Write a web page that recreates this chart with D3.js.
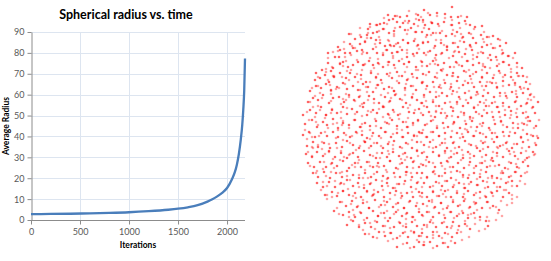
<!DOCTYPE html>
<html>
<head>
<meta charset="utf-8">
<script src="https://cdn.jsdelivr.net/npm/d3@7"></script>
<style>
  html, body { margin: 0; padding: 0; background: #fff; }
  svg { display: block; font-family: Lato, "Open Sans", sans-serif; }
</style>
</head>
<body>
<svg id="chart" width="551" height="261"></svg>
<script>
// average radius over iterations
const iterations = [0, 200, 400, 600, 800, 1000, 1200, 1400, 1500, 1600, 1700, 1800, 1850, 1900, 1950, 2000, 2050, 2080, 2100, 2120, 2140, 2155, 2165, 2175, 2183];
const avgRadius  = [2.8, 2.9, 3.0, 3.2, 3.4, 3.7, 4.2, 4.9, 5.4, 6.1, 7.1, 8.8, 9.9, 11.3, 13.0, 15.3, 19.5, 23.0, 26.5, 31.5, 38.5, 45.5, 52.5, 62.0, 77.3];
const xTicks = [0, 500, 1000, 1500, 2000];
const yTicks = [0, 10, 20, 30, 40, 50, 60, 70, 80, 90];

// particle positions (projected), in sphere units; near layer (stronger) and far layer (paler)
const particlesNear = [
  [-34,115],[-27,114],[-22,113],[-15,114],[-4,115],[-52,106],[-45,105],[-42,106],[-38,107],[-33,110],[-29,111],[-25,108],[-19,107],[-13,109],[-8,106],[-3,110],
  [-54,101],[-49,97],[-45,98],[-39,101],[-33,97],[-28,99],[-22,103],[-17,100],[-11,102],[-6,98],[-73,96],[-61,93],[-55,95],
  [-72,86],[-67,91],[-62,86],[-57,88],[-51,92],[-46,90],[-42,87],[-37,84],[-32,85],[-28,84],[-24,87],[-19,90],[-14,87],[-8,89],[-4,85],[-84,83],[-82,80],[-69,82],
  [-94,77],[-87,73],[-83,73],[-77,77],[-72,77],[-65,79],[-60,80],[-55,77],[-49,81],[-45,77],[-39,75],[-35,80],[-30,77],[-25,78],[-20,80],[-15,73],[-9,76],[-5,77],
  [-94,67],[-89,62],[-82,66],[-79,68],[-74,63],[-69,65],[-64,68],[-59,65],[-53,69],[-49,65],[-44,67],[-39,63],[-33,68],[-28,65],[-23,69],[-18,66],[-13,68],[-6,63],[-106,57],[-100,60],[-91,59],
  [-107,50],[-102,52],[-97,55],[-93,48],[-88,53],[-82,57],[-76,52],[-72,57],[-67,53],[-61,55],[-56,48],[-51,57],[-46,53],[-41,50],[-35,56],[-30,52],[-25,58],[-20,54],[-15,50],[-10,56],[-5,52],
  [-112,39],[-106,44],[-101,42],[-96,46],[-91,40],[-85,43],[-79,47],[-75,41],[-69,44],[-64,40],[-59,46],[-54,43],[-49,38],[-44,45],[-38,41],[-33,43],[-28,39],[-23,47],[-17,42],[-11,44],[-6,40],
  [-114,28],[-109,32],[-104,30],[-99,35],[-93,27],[-89,32],[-83,33],[-78,28],[-73,35],[-68,30],[-63,33],[-58,27],[-53,34],[-48,31],[-43,27],[-37,33],[-32,29],[-27,35],[-22,31],[-16,27],[-10,33],[-5,30],
  [-119,15],[-112,20],[-106,17],[-101,23],[-96,15],[-90,20],[-85,17],[-79,23],[-75,16],[-70,21],[-65,18],[-59,23],[-55,15],[-49,20],[-45,17],[-39,23],[-34,16],[-29,20],[-24,15],[-19,23],[-13,18],[-8,17],[-3,21],
  [-117,6],[-110,10],[-105,3],[-99,8],[-95,5],[-89,11],[-84,2],[-79,7],[-73,5],[-67,10],[-62,3],[-57,7],[-52,4],[-46,9],[-41,2],[-35,7],[-30,10],[-25,4],[-19,8],[-15,3],[-9,7],[-4,10],
  [30,123],[2,120],[8,115],[15,117],[23,116],[29,113],[36,113],[45,113],[1,110],
  [3,105],[10,107],[16,106],[22,108],[30,105],[37,107],[43,109],[48,105],[53,103],[60,104],[7,101],
  [0,98],[5,95],[11,97],[18,97],[24,94],[30,96],[35,98],[41,93],[47,97],[51,92],[59,95],[65,93],[71,94],[76,91],
  [1,87],[6,88],[13,84],[19,87],[25,83],[31,87],[36,83],[42,88],[48,85],[54,87],[60,83],[65,85],[71,82],[78,84],[84,87],
  [2,77],[8,79],[14,75],[20,77],[25,80],[31,74],[37,78],[43,76],[50,80],[55,73],[61,77],[68,75],[74,73],[81,77],[86,74],[93,77],
  [0,68],[5,64],[11,69],[16,65],[22,67],[28,63],[34,68],[40,64],[45,69],[51,65],[57,67],[63,63],[69,70],[75,64],[81,68],[87,65],[95,67],[100,62],
  [1,56],[7,58],[13,53],[19,60],[25,55],[31,57],[36,53],[42,59],[48,54],[54,58],[60,53],[65,57],[71,52],[77,59],[83,55],[89,53],[95,57],[101,54],
  [0,47],[5,44],[11,48],[17,43],[23,47],[29,43],[35,49],[41,45],[46,47],[52,43],[58,48],[64,44],[70,47],[75,43],[81,49],[87,45],[93,47],[98,43],[104,48],[106,41],
  [2,35],[8,38],[14,33],[20,37],[25,34],[31,39],[37,33],[43,37],[49,32],[55,38],[61,34],[66,37],[72,33],[78,37],[84,34],[90,38],[95,33],[101,37],[108,35],
  [0,27],[5,23],[11,28],[17,24],[23,27],[29,23],[35,28],[41,24],[46,27],[52,22],[58,28],[64,24],[70,27],[75,23],[81,27],[87,23],[93,28],[99,24],[105,27],[111,23],[116,28],
  [1,15],[7,18],[13,13],[19,17],[25,14],[31,19],[36,13],[42,17],[48,13],[54,18],[60,14],[65,17],[71,13],[77,18],[83,15],[89,19],[95,13],[101,17],[106,13],[113,17],
  [3,5],[9,9],[15,2],[21,7],[26,3],[32,8],[38,2],[44,6],[50,9],[55,3],[61,7],[67,2],[73,6],[79,9],[85,3],[91,7],[96,2],[102,6],[108,9],[114,4],
  [-119,-5],[-113,-2],[-107,-7],[-101,-3],[-95,-6],[-89,-2],[-84,-7],[-78,-3],[-72,-7],[-66,-2],[-60,-5],[-55,-8],[-49,-3],[-43,-6],[-37,-2],[-31,-7],[-25,-3],[-19,-7],[-14,-3],[-8,-6],[-3,-2],
  [-115,-16],[-109,-12],[-104,-17],[-98,-13],[-92,-18],[-86,-13],[-80,-17],[-75,-11],[-69,-15],[-63,-18],[-57,-12],[-51,-16],[-45,-13],[-39,-18],[-34,-14],[-28,-11],[-22,-17],[-16,-13],[-10,-18],[-5,-12],
  [-116,-24],[-110,-27],[-105,-22],[-99,-26],[-93,-21],[-87,-27],[-81,-23],[-75,-28],[-69,-23],[-64,-27],[-58,-21],[-52,-25],[-46,-28],[-40,-23],[-35,-27],[-29,-22],[-23,-26],[-17,-23],[-11,-28],[-5,-21],
  [-114,-33],[-108,-37],[-102,-32],[-96,-37],[-90,-33],[-85,-36],[-79,-31],[-73,-38],[-67,-33],[-61,-37],[-55,-32],[-49,-37],[-44,-33],[-38,-36],[-32,-31],[-26,-38],[-20,-33],[-15,-37],[-9,-32],[-3,-37],
  [-109,-43],[-104,-47],[-98,-42],[-92,-48],[-86,-43],[-80,-47],[-75,-41],[-69,-45],[-63,-48],[-57,-43],[-51,-47],[-45,-42],[-39,-46],[-34,-48],[-28,-43],[-22,-47],[-16,-42],[-10,-47],[-5,-43],
  [-105,-53],[-99,-57],[-93,-52],[-87,-57],[-81,-53],[-75,-50],[-69,-56],[-64,-53],[-58,-58],[-52,-54],[-46,-50],[-40,-56],[-35,-53],[-29,-58],[-23,-54],[-17,-51],[-11,-57],[-5,-53],
  [-97,-65],[-90,-62],[-85,-66],[-79,-61],[-73,-65],[-67,-63],[-61,-67],[-55,-61],[-49,-65],[-44,-62],[-38,-67],[-32,-63],[-26,-61],[-20,-66],[-15,-63],[-9,-67],[-3,-62],
  [-88,-81],[-82,-72],[-76,-76],[-70,-71],[-65,-77],[-59,-73],[-53,-78],[-47,-70],[-41,-75],[-35,-72],[-29,-77],[-24,-73],[-18,-78],[-12,-71],[-6,-76],
  [-79,-85],[-73,-82],[-67,-87],[-61,-83],[-55,-88],[-49,-81],[-44,-86],[-38,-83],[-32,-88],[-26,-82],[-20,-86],[-15,-83],[-9,-87],[-3,-82],
  [-75,-95],[-69,-91],[-63,-97],[-57,-93],[-51,-97],[-45,-92],[-39,-96],[-34,-91],[-28,-97],[-22,-93],[-16,-97],[-10,-92],[-5,-96],
  [-57,-104],[-49,-107],[-43,-102],[-37,-106],[-31,-103],[-25,-108],[-19,-103],[-14,-107],[-8,-102],[-3,-106],
  [-25,-117],[-15,-113],[-8,-117],[-3,-112],
  [0,-3],[5,-7],[11,-2],[17,-6],[23,-3],[29,-7],[35,-3],[41,-7],[46,-2],[52,-6],[58,-3],[64,-7],[70,-3],[75,-7],[81,-2],[87,-6],[93,-3],[99,-7],[105,-4],[111,-6],[116,-8],
  [2,-15],[8,-12],[14,-17],[20,-13],[25,-18],[31,-13],[37,-17],[43,-11],[49,-15],[55,-18],[61,-13],[66,-17],[72,-12],[78,-16],[84,-13],[90,-18],[95,-14],[101,-12],[107,-17],[114,-15],
  [0,-23],[5,-27],[11,-22],[17,-26],[23,-21],[29,-27],[35,-23],[41,-28],[46,-22],[52,-26],[58,-21],[64,-25],[70,-28],[75,-23],[81,-27],[87,-21],[93,-26],[99,-23],[105,-28],[111,-22],
  [1,-35],[7,-32],[13,-37],[19,-33],[25,-31],[31,-37],[36,-33],[42,-38],[48,-32],[54,-36],[60,-33],[65,-37],[71,-31],[77,-35],[83,-38],[89,-33],[95,-37],[101,-32],[106,-36],
  [0,-43],[5,-47],[11,-42],[17,-46],[23,-43],[29,-48],[35,-41],[41,-45],[46,-48],[52,-43],[58,-47],[64,-42],[70,-46],[75,-48],[81,-43],[87,-47],[93,-42],[99,-46],
  [2,-53],[8,-57],[14,-52],[20,-56],[25,-51],[31,-57],[37,-53],[43,-58],[49,-52],[55,-55],[61,-51],[66,-57],[72,-53],[78,-57],[84,-53],[90,-51],[95,-56],
  [0,-63],[5,-67],[11,-62],[17,-66],[23,-61],[29,-67],[35,-63],[41,-67],[46,-61],[52,-65],[58,-62],[64,-67],[70,-63],[75,-61],[81,-67],[87,-63],
  [1,-74],[7,-71],[13,-77],[19,-73],[25,-78],[31,-72],[36,-76],[42,-71],[48,-77],[54,-73],[60,-78],[65,-72],[71,-76],[77,-80],
  [0,-85],[5,-82],[11,-87],[17,-83],[23,-88],[29,-82],[35,-86],[41,-83],[46,-88],[52,-83],[58,-87],[64,-91],[66,-96],
  [2,-95],[8,-92],[14,-97],[20,-93],[25,-97],[31,-92],[37,-96],[43,-94],[48,-99],
  [0,-103],[5,-107],[11,-102],[17,-106],[23,-103],[30,-107],[35,-103],
  [2,-115],[8,-112],[15,-116],[21,-113],[26,-117],[33,-113]
];

const particlesFar = [
  [-13,119],[-6,116],[6,117],[15,114],
  [-38,112],[-25,114],[-17,109],[-6,111],[-1,113],[9,108],[23,112],[30,110],[39,114],
  [-52,103],[-46,105],[-35,106],[-27,102],[-14,107],[-4,104],[1,108],[10,107],[17,104],[29,105],[38,102],[44,106],
  [-62,102],[-54,97],[-43,99],[-38,101],[-28,96],[-14,100],[-7,98],[2,102],[14,97],[20,99],[31,100],[39,96],[52,101],[62,98],
  [-71,96],[-62,95],[-55,92],[-43,93],[-34,90],[-28,94],[-15,96],[-7,91],[4,93],[9,95],[19,90],[33,94],[40,92],[49,96],[61,91],[67,93],
  [-78,88],[-70,84],[-57,89],[-47,86],[-42,90],[-33,89],[-26,86],[-14,87],[-5,84],[1,88],[14,90],[22,85],[33,87],[38,89],[48,84],[62,88],[69,86],[78,90],
  [-84,79],[-78,81],[-67,82],[-59,78],[-46,83],[-36,80],[-31,84],[-22,83],[-15,80],[-3,81],[6,78],[12,82],[25,84],[33,79],[44,81],[49,83],[59,78],[73,82],[80,80],
  [-89,78],[-77,73],[-71,75],[-60,76],[-52,72],[-39,77],[-29,74],[-24,78],[-15,77],[-8,74],[4,75],[13,72],[19,76],[32,78],[40,73],[51,75],[56,77],[66,72],[80,76],[87,74],
  [-94,72],[-82,67],[-76,69],[-65,70],[-57,66],[-44,71],[-34,68],[-29,72],[-20,71],[-13,68],[-1,69],[8,66],[14,70],[27,72],[35,67],[46,69],[51,71],[61,66],[75,70],[82,68],[91,72],
  [-96,61],[-90,63],[-79,64],[-71,60],[-58,65],[-48,62],[-43,66],[-34,65],[-27,62],[-15,63],[-6,60],[0,64],[13,66],[21,61],[32,63],[37,65],[47,60],[61,64],[68,62],[77,66],[89,61],[95,63],
  [-96,58],[-88,54],[-75,59],[-65,56],[-60,60],[-51,59],[-44,56],[-32,57],[-23,54],[-17,58],[-4,60],[4,55],[15,57],[20,59],[30,54],[44,58],[51,56],[60,60],[72,55],[78,57],[89,58],[97,54],
  [-104,53],[-94,50],[-89,54],[-80,53],[-73,50],[-61,51],[-52,48],[-46,52],[-33,54],[-25,49],[-14,51],[-9,53],[1,48],[15,52],[22,50],[31,54],[43,49],[49,51],[60,52],[68,48],[81,53],[91,50],[96,54],[105,53],
  [-104,44],[-92,45],[-83,42],[-77,46],[-64,48],[-56,43],[-45,45],[-40,47],[-30,42],[-16,46],[-9,44],[0,48],[12,43],[18,45],[29,46],[37,42],[50,47],[60,44],[65,48],[74,47],[81,44],[93,45],[102,42],[108,46],
  [-110,42],[-102,37],[-91,39],[-86,41],[-76,36],[-62,40],[-55,38],[-46,42],[-34,37],[-28,39],[-17,40],[-9,36],[4,41],[14,38],[19,42],[28,41],[35,38],[47,39],[56,36],[62,40],[75,42],[83,37],[94,39],[99,41],[109,36],
  [-107,34],[-100,32],[-91,36],[-79,31],[-73,33],[-62,34],[-54,30],[-41,35],[-31,32],[-26,36],[-17,35],[-10,32],[2,33],[11,30],[17,34],[30,36],[38,31],[49,33],[54,35],[64,30],[78,34],[85,32],[94,36],[106,31],[112,33],
  [-112,28],[-104,24],[-91,29],[-81,26],[-76,30],[-67,29],[-60,26],[-48,27],[-39,24],[-33,28],[-20,30],[-12,25],[-1,27],[4,29],[14,24],[28,28],[35,26],[44,30],[56,25],[62,27],[73,28],[81,24],[94,29],[104,26],[109,30],
  [-109,23],[-102,20],[-90,21],[-81,18],[-75,22],[-62,24],[-54,19],[-43,21],[-38,23],[-28,18],[-14,22],[-7,20],[2,24],[14,19],[20,21],[31,22],[39,18],[52,23],[62,20],[67,24],[76,23],[83,20],[95,21],[104,18],[110,22],
  [-115,18],[-107,13],[-96,15],[-91,17],[-81,12],[-67,16],[-60,14],[-51,18],[-39,13],[-33,15],[-22,16],[-14,12],[-1,17],[9,14],[14,18],[23,17],[30,14],[42,15],[51,12],[57,16],[70,18],[78,13],[89,15],[94,17],[104,12],
  [-113,10],[-106,8],[-97,12],[-85,7],[-79,9],[-68,10],[-60,6],[-47,11],[-37,8],[-32,12],[-23,11],[-16,8],[-4,9],[5,6],[11,10],[24,12],[32,7],[43,9],[48,11],[58,6],[72,10],[79,8],[88,12],[100,7],[106,9],[117,10],
  [-117,0],[-104,5],[-94,2],[-89,6],[-80,5],[-73,2],[-61,3],[-52,0],[-46,4],[-33,6],[-25,1],[-14,3],[-9,5],[1,0],[15,4],[22,2],[31,6],[43,1],[49,3],[60,4],[68,0],[81,5],[91,2],[96,6],[105,5],[112,2],
  [-112,-3],[-103,-6],[-97,-2],[-84,0],[-76,-5],[-65,-3],[-60,-1],[-50,-6],[-36,-2],[-29,-4],[-20,0],[-8,-5],[-2,-3],[9,-2],[17,-6],[30,-1],[40,-4],[45,0],[54,-1],[61,-4],[73,-3],[82,-6],[88,-2],[101,0],[109,-5],
  [-115,-9],[-110,-7],[-100,-12],[-86,-8],[-79,-10],[-70,-6],[-58,-11],[-52,-9],[-41,-8],[-33,-12],[-20,-7],[-10,-10],[-5,-6],[4,-7],[11,-10],[23,-9],[32,-12],[38,-8],[51,-6],[59,-11],[70,-9],[75,-7],[85,-12],[99,-8],[106,-10],[115,-6],
  [-110,-17],[-104,-15],[-93,-14],[-85,-18],[-72,-13],[-62,-16],[-57,-12],[-48,-13],[-41,-16],[-29,-15],[-20,-18],[-14,-14],[-1,-12],[7,-17],[18,-15],[23,-13],[33,-18],[47,-14],[54,-16],[63,-12],[75,-17],[81,-15],[92,-14],[100,-18],[113,-13],
  [-114,-22],[-109,-18],[-100,-19],[-93,-22],[-81,-21],[-72,-24],[-66,-20],[-53,-18],[-45,-23],[-34,-21],[-29,-19],[-19,-24],[-5,-20],[2,-22],[11,-18],[23,-23],[29,-21],[40,-20],[48,-24],[61,-19],[71,-22],[76,-18],[85,-19],[92,-22],[104,-21],[113,-24],
  [-110,-26],[-97,-24],[-89,-29],[-78,-27],[-73,-25],[-63,-30],[-49,-26],[-42,-28],[-33,-24],[-21,-29],[-15,-27],[-4,-26],[4,-30],[17,-25],[27,-28],[32,-24],[41,-25],[48,-28],[60,-27],[69,-30],[75,-26],[88,-24],[96,-29],[107,-27],[112,-25],
  [-112,-36],[-98,-32],[-91,-34],[-82,-30],[-70,-35],[-64,-33],[-53,-32],[-45,-36],[-32,-31],[-22,-34],[-17,-30],[-8,-31],[-1,-34],[11,-33],[20,-36],[26,-32],[39,-30],[47,-35],[58,-33],[63,-31],[73,-36],[87,-32],[94,-34],[103,-30],
  [-105,-41],[-99,-39],[-88,-38],[-80,-42],[-67,-37],[-57,-40],[-52,-36],[-43,-37],[-36,-40],[-24,-39],[-15,-42],[-9,-38],[4,-36],[12,-41],[23,-39],[28,-37],[38,-42],[52,-38],[59,-40],[68,-36],[80,-41],[86,-39],[97,-38],[105,-42],
  [-106,-43],[-96,-46],[-91,-42],[-82,-43],[-75,-46],[-63,-45],[-54,-48],[-48,-44],[-35,-42],[-27,-47],[-16,-45],[-11,-43],[-1,-48],[13,-44],[20,-46],[29,-42],[41,-47],[47,-45],[58,-44],[66,-48],[79,-43],[89,-46],[94,-42],[103,-43],
  [-99,-52],[-87,-51],[-78,-54],[-72,-50],[-59,-48],[-51,-53],[-40,-51],[-35,-49],[-25,-54],[-11,-50],[-4,-52],[5,-48],[17,-53],[23,-51],[34,-50],[42,-54],[55,-49],[65,-52],[70,-48],[79,-49],[86,-52],[98,-51],
  [-101,-60],[-95,-56],[-82,-54],[-74,-59],[-63,-57],[-58,-55],[-48,-60],[-34,-56],[-27,-58],[-18,-54],[-6,-59],[0,-57],[11,-56],[19,-60],[32,-55],[42,-58],[47,-54],[56,-55],[63,-58],[75,-57],[84,-60],[90,-56],[103,-54],
  [-95,-65],[-84,-63],[-79,-61],[-69,-66],[-55,-62],[-48,-64],[-39,-60],[-27,-65],[-21,-63],[-10,-62],[-2,-66],[11,-61],[21,-64],[26,-60],[35,-61],[42,-64],[54,-63],[63,-66],[69,-62],[82,-60],[90,-65],
  [-95,-69],[-90,-67],[-80,-72],[-66,-68],[-59,-70],[-50,-66],[-38,-71],[-32,-69],[-21,-68],[-13,-72],[0,-67],[10,-70],[15,-66],[24,-67],[31,-70],[43,-69],[52,-72],[58,-68],[71,-66],[79,-71],[90,-69],[95,-67],
  [-85,-78],[-71,-74],[-64,-76],[-55,-72],[-43,-77],[-37,-75],[-26,-74],[-18,-78],[-5,-73],[5,-76],[10,-72],[19,-73],[26,-76],[38,-75],[47,-78],[53,-74],[66,-72],[74,-77],[85,-75],[90,-73],
  [-83,-84],[-69,-80],[-62,-82],[-53,-78],[-41,-83],[-35,-81],[-24,-80],[-16,-84],[-3,-79],[7,-82],[12,-78],[21,-79],[28,-82],[40,-81],[49,-84],[55,-80],[68,-78],[76,-83],
  [-73,-87],[-68,-85],[-58,-90],[-44,-86],[-37,-88],[-28,-84],[-16,-89],[-10,-87],[1,-86],[9,-90],[22,-85],[32,-88],[37,-84],[46,-85],[53,-88],[65,-87],[74,-90],[80,-86],
  [-71,-90],[-63,-95],[-52,-93],[-47,-91],[-37,-96],[-23,-92],[-16,-94],[-7,-90],[5,-95],[11,-93],[22,-92],[30,-96],[43,-91],[53,-94],[58,-90],[67,-91],
  [-59,-100],[-47,-99],[-38,-102],[-32,-98],[-19,-96],[-11,-101],[0,-99],[5,-97],[15,-102],[29,-98],[36,-100],[45,-96],[57,-101],[63,-99],
  [-53,-104],[-45,-108],[-32,-103],[-22,-106],[-17,-102],[-8,-103],[-1,-106],[11,-105],[20,-108],[26,-104],[39,-102],[47,-107],
  [-34,-111],[-29,-109],[-19,-114],[-5,-110],[2,-112],[11,-108],[23,-113],[29,-111],[40,-110],
  [-12,-118],[1,-115],[11,-118]
];

const svg = d3.select("#chart");

// ---- left: line chart ----
const plot = { left: 31, right: 245, top: 32, bottom: 220 };

const x = d3.scaleLinear().domain([0, d3.max(iterations)]).range([plot.left, plot.right]);
const y = d3.scaleLinear().domain([0, 90]).range([plot.bottom, plot.top]);

const grid = svg.append("g");
grid.selectAll("line.h")
  .data(yTicks.filter((d) => d > 0))
  .join("line")
  .attr("x1", plot.left).attr("x2", plot.right)
  .attr("y1", (d) => Math.round(y(d)) + 0.5).attr("y2", (d) => Math.round(y(d)) + 0.5)
  .attr("stroke", "#dde5f0");
grid.selectAll("line.v")
  .data(xTicks.filter((d) => d > 0))
  .join("line")
  .attr("x1", (d) => Math.round(x(d)) + 0.5).attr("x2", (d) => Math.round(x(d)) + 0.5)
  .attr("y1", plot.top).attr("y2", plot.bottom)
  .attr("stroke", "#dde5f0");

const xAxis = svg.append("g")
  .attr("transform", `translate(0,${plot.bottom + 0.5})`)
  .call(d3.axisBottom(x).tickValues(xTicks).tickFormat(d3.format("d")).tickSize(4).tickSizeOuter(0).tickPadding(4));
const yAxis = svg.append("g")
  .attr("transform", `translate(${plot.left + 0.5},0)`)
  .call(d3.axisLeft(y).tickValues(yTicks).tickFormat(d3.format("d")).tickSize(4).tickSizeOuter(0).tickPadding(3));

[xAxis, yAxis].forEach((g) => {
  g.select(".domain").attr("stroke", "#8c8c8c");
  g.selectAll(".tick line").attr("stroke", "#8c8c8c");
  g.selectAll(".tick text")
    .attr("fill", "#595959")
    .style("font-family", "Lato, 'Open Sans', sans-serif")
    .style("font-size", "9px");
});
// the x axis line runs to the end of the data
xAxis.select(".domain").attr("d", `M${plot.left},0H${plot.right}`);

svg.append("path")
  .datum(iterations.map((d, i) => [d, avgRadius[i]]))
  .attr("fill", "none")
  .attr("stroke", "#4a7ebb")
  .attr("stroke-width", 2.3)
  .attr("stroke-linejoin", "round")
  .attr("d", d3.line().x((d) => x(d[0])).y((d) => y(d[1])).curve(d3.curveMonotoneX));

svg.append("text")
  .attr("x", 126).attr("y", 19)
  .attr("text-anchor", "middle")
  .style("font-size", "12.5px").style("font-weight", "bold")
  .attr("fill", "#000")
  .text("Spherical radius vs. time");

svg.append("text")
  .attr("x", 138).attr("y", 248)
  .attr("text-anchor", "middle")
  .style("font-size", "8.5px").style("font-weight", "bold")
  .attr("fill", "#000")
  .text("Iterations");

svg.append("text")
  .attr("transform", "translate(9,126) rotate(-90)")
  .attr("text-anchor", "middle")
  .style("font-size", "8.5px").style("font-weight", "bold")
  .attr("fill", "#000")
  .text("Average Radius");

// ---- right: particle cloud ----
const px = d3.scaleLinear().domain([-132, 129]).range([290, 551]);
const py = d3.scaleLinear().domain([-131, 130]).range([261, 0]);

const cloud = svg.append("g");
cloud.append("g")
  .selectAll("circle")
  .data(particlesFar)
  .join("circle")
  .attr("cx", (d) => px(d[0]))
  .attr("cy", (d) => py(d[1]))
  .attr("r", 1.3)
  .attr("fill", "#ff0000")
  .attr("fill-opacity", 0.35);
cloud.append("g")
  .selectAll("circle")
  .data(particlesNear)
  .join("circle")
  .attr("cx", (d) => px(d[0]))
  .attr("cy", (d) => py(d[1]))
  .attr("r", 1.3)
  .attr("fill", "#ff0000")
  .attr("fill-opacity", 0.6);
</script>
</body>
</html>
